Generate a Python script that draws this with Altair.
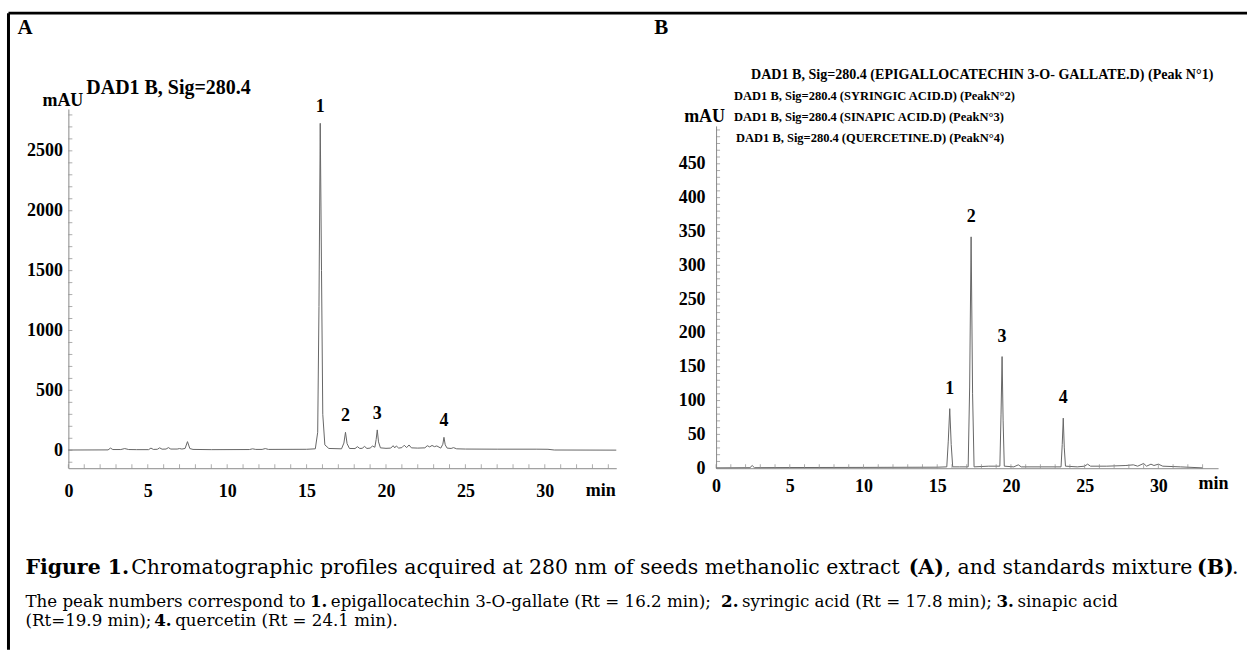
import altair as alt
import pandas as pd

SERIF = "Liberation Serif"
CAPTION_FONT = "DejaVu Serif"
TRACE = "#666666"
AXIS = "#8a8a8a"

# ---- Panel A: seeds methanolic extract (DAD1 B, 280 nm) ----
A_TIME = [0.0, 2.5, 2.65, 2.8, 3.3, 3.55, 3.8, 4.3, 5.05, 5.2, 5.35, 5.6, 5.75, 5.9,
          6.15, 6.3, 6.45, 6.85, 7.0, 7.15, 7.35, 7.5, 7.65, 7.85, 9.0, 11.4, 11.6,
          11.8, 12.2, 12.4, 12.6, 15.0, 15.55, 15.7, 15.78, 15.86, 15.94, 16.02,
          16.15, 16.4, 17.2, 17.35, 17.45, 17.55, 17.7, 18.05, 18.2, 18.35, 18.5,
          18.65, 18.8, 19.0, 19.15, 19.3, 19.38, 19.45, 19.53, 19.65, 20.0, 20.3,
          20.45, 20.55, 20.65, 20.8, 21.0, 21.15, 21.3, 21.45, 21.6, 22.0, 22.45,
          22.6, 22.75, 22.9, 23.05, 23.2, 23.45, 23.58, 23.65, 23.73, 23.85, 24.1,
          24.25, 24.45, 25.0, 27.0, 29.5, 30.2, 30.6, 34.5]
A_MAU = [2, 3, 18, 6, 6, 14, 6, 5, 5, 18, 7, 8, 20, 9,
         10, 22, 10, 10, 14, 10, 15, 72, 14, 7, 5, 6, 12,
         7, 7, 14, 7, 8, 12, 150, 1200, 2730, 1500, 300,
         45, 15, 12, 60, 150, 55, 15, 14, 30, 15, 16,
         32, 15, 18, 35, 25, 90, 170, 70, 20, 16, 18,
         38, 20, 36, 18, 22, 42, 22, 44, 20, 18, 20,
         38, 28, 40, 30, 36, 18, 50, 108, 45, 18, 15,
         22, 12, 10, 9, 9, 8, 2, 1]

# ---- Panel B: standards mixture ----
B_TIME = [0.0, 2.3, 2.45, 2.6, 5.0, 10.0, 15.0, 15.65, 15.75, 15.85, 15.95, 16.05,
          16.5, 17.1, 17.2, 17.3, 17.4, 17.5, 18.5, 19.25, 19.33, 19.4, 19.47, 19.55,
          20.2, 20.5, 20.7, 22.0, 23.4, 23.48, 23.55, 23.62, 23.7, 24.5, 25.0, 25.2,
          25.4, 26.5, 27.8, 28.3, 28.6, 29.0, 29.2, 29.5, 29.7, 30.0, 30.3, 31.5, 33.0]
B_MAU = [0.5, 0.8, 4, 0.8, 1, 1.2, 1.5, 2, 40, 88, 35, 2,
         2, 2, 120, 342, 110, 2, 3, 3, 80, 165, 70, 3,
         2, 5, 2, 2, 2, 35, 74, 30, 3, 2, 3, 6,
         3, 3, 4, 5, 3, 7, 3, 6, 4, 6, 3, 2, 0.5]

PEAK_NUM = ["1", "2", "3", "4"]
A_PEAK_RT = [15.86, 17.45, 19.45, 23.65]
A_PEAK_MAU = [2730, 150, 170, 108]
B_PEAK_RT = [15.85, 17.3, 19.4, 23.55]
B_PEAK_MAU = [88, 342, 165, 74]

X_LABELS = [0, 5, 10, 15, 20, 25, 30]
A_X_MINOR = list(range(0, 35))
B_X_MINOR = list(range(0, 34))
A_Y_LABELS = [0, 500, 1000, 1500, 2000, 2500]
A_Y_MINOR = list(range(-100, 2900, 100))
B_Y_LABELS = [0, 50, 100, 150, 200, 250, 300, 350, 400, 450]
B_Y_MINOR = list(range(0, 510, 10))

B_LEGEND = [
    "DAD1 B, Sig=280.4 (EPIGALLOCATECHIN 3-O- GALLATE.D) (Peak N°1)",
    "DAD1 B, Sig=280.4  (SYRINGIC ACID.D) (PeakN°2)",
    "DAD1 B, Sig=280.4  (SINAPIC ACID.D) (PeakN°3)",
    "DAD1 B, Sig=280.4  (QUERCETINE.D) (PeakN°4)",
]

ONE = alt.Data(values=[{}])


def txt(s, x, y, size, bold=True, font=SERIF, align="left"):
    return alt.Chart(ONE).mark_text(
        text=s, font=font, fontSize=size, fontWeight="bold" if bold else "normal",
        align=align, baseline="middle", color="black"
    ).encode(x=alt.value(x), y=alt.value(y))


def x_axis(pad, title_x, title_y):
    return alt.Axis(
        values=X_LABELS, ticks=False,
        title="min", titleX=title_x, titleY=title_y, titleAlign="center",
        titleBaseline="middle", titleFont=SERIF, titleFontSize=18,
        titleFontWeight="bold", titleColor="black",
        labelFont=SERIF, labelFontSize=18, labelFontWeight="bold", labelColor="black",
        labelPadding=pad, labelFlush=False, labelOverlap=False,
        domainColor=AXIS, grid=False)


def y_axis(values, pad, title_x, title_y):
    return alt.Axis(
        values=values, format="d", ticks=False,
        title="mAU", titleAngle=0, titleX=title_x, titleY=title_y,
        titleAlign="center", titleBaseline="middle", titleFont=SERIF,
        titleFontSize=18, titleFontWeight="bold", titleColor="black",
        labelFont=SERIF, labelFontSize=18, labelFontWeight="bold", labelColor="black",
        labelPadding=pad, labelFlush=False, labelOverlap=False,
        domainColor=AXIS, grid=False)


def minor_ticks_x(values, y_px, axis):
    return alt.Chart(pd.DataFrame({"t": values})).mark_tick(
        orient="vertical", color=AXIS, thickness=1, size=4).encode(
        x=alt.X("t:Q", axis=axis), y=alt.value(y_px))


def minor_ticks_y(values, axis):
    return alt.Chart(pd.DataFrame({"mau": values})).mark_tick(
        orient="horizontal", color=AXIS, thickness=1, size=4).encode(
        y=alt.Y("mau:Q", axis=axis), x=alt.value(2))


# ---- panel A ----
ax_a_x = x_axis(14, 533, 22)
ax_a_y = y_axis(A_Y_LABELS, 6, -6, -8)
a_line = alt.Chart(pd.DataFrame({"t": A_TIME, "mau": A_MAU})).mark_line(
    color=TRACE, strokeWidth=1).encode(
    x=alt.X("t:Q", scale=alt.Scale(domain=[0, 34.5], nice=False, zero=False), axis=ax_a_x),
    y=alt.Y("mau:Q", scale=alt.Scale(domain=[-150, 2850], nice=False), axis=ax_a_y))
a_peaks = alt.Chart(pd.DataFrame({"t": A_PEAK_RT, "mau": A_PEAK_MAU, "n": PEAK_NUM})).mark_text(
    font=SERIF, fontSize=18, fontWeight="bold", baseline="bottom", dy=-7, color="black"
).encode(x=alt.X("t:Q", axis=ax_a_x), y=alt.Y("mau:Q", axis=ax_a_y), text="n:N")

frame_top = alt.Chart(ONE).mark_rule(color="black", strokeWidth=3).encode(
    x=alt.value(-60), x2=alt.value(1181), y=alt.value(-96))
frame_left = alt.Chart(ONE).mark_rule(color="black", strokeWidth=3).encode(
    x=alt.value(-60), y=alt.value(-96), y2=alt.value(542))

CAP1, CAP2 = 20.5, 16.7
caption = [
    txt("Figure 1.", -43, 460, CAP1, True, CAPTION_FONT),
    txt("Chromatographic profiles acquired at 280 nm of seeds methanolic extract",
        63, 460, CAP1, False, CAPTION_FONT),
    txt("(A)", 842, 460, CAP1, True, CAPTION_FONT),
    txt(", and standards mixture", 878, 460, CAP1, False, CAPTION_FONT),
    txt("(B)", 1131, 460, CAP1, True, CAPTION_FONT),
    txt(".", 1166, 460, CAP1, False, CAPTION_FONT),
    txt("The peak numbers correspond to", -43, 494, CAP2, False, CAPTION_FONT),
    txt("1.", 242, 494, CAP2, True, CAPTION_FONT),
    txt("epigallocatechin 3-O-gallate (Rt = 16.2 min);", 263, 494, CAP2, False, CAPTION_FONT),
    txt("2.", 654, 494, CAP2, True, CAPTION_FONT),
    txt("syringic acid (Rt = 17.8 min);", 675, 494, CAP2, False, CAPTION_FONT),
    txt("3.", 930, 494, CAP2, True, CAPTION_FONT),
    txt("sinapic acid", 951, 494, CAP2, False, CAPTION_FONT),
    txt("(Rt=19.9 min);", -43, 513, CAP2, False, CAPTION_FONT),
    txt("4.", 86, 513, CAP2, True, CAPTION_FONT),
    txt("quercetin (Rt = 24.1 min).", 107, 513, CAP2, False, CAPTION_FONT),
]

panel_a = alt.layer(
    a_line, minor_ticks_x(A_X_MINOR, 358, ax_a_x), minor_ticks_y(A_Y_MINOR, ax_a_y), a_peaks,
    txt("A", -51, -81, 21),
    txt("DAD1 B, Sig=280.4", 18, -21, 20),
    frame_top, frame_left, *caption,
).properties(width=549, height=360)

# ---- panel B ----
ax_b_x = x_axis(9, 498, 15)
ax_b_y = y_axis(B_Y_LABELS, 11, -12, 8)
b_line = alt.Chart(pd.DataFrame({"t": B_TIME, "mau": B_MAU})).mark_line(
    color=TRACE, strokeWidth=1).encode(
    x=alt.X("t:Q", scale=alt.Scale(domain=[0, 34.05], nice=False, zero=False), axis=ax_b_x),
    y=alt.Y("mau:Q", scale=alt.Scale(domain=[0, 506], range=[360, 17], nice=False), axis=ax_b_y))
b_peaks = alt.Chart(pd.DataFrame({"t": B_PEAK_RT, "mau": B_PEAK_MAU, "n": PEAK_NUM})).mark_text(
    font=SERIF, fontSize=18, fontWeight="bold", baseline="bottom", dy=-11, color="black"
).encode(x=alt.X("t:Q", axis=ax_b_x), y=alt.Y("mau:Q", axis=ax_b_y), text="n:N")

panel_b = alt.layer(
    b_line, minor_ticks_x(B_X_MINOR, 358, ax_b_x), minor_ticks_y(B_Y_MINOR, ax_b_y), b_peaks,
    txt("B", -62, -81, 21),
    txt(B_LEGEND[0], 35, -34, 14.1),
    txt(B_LEGEND[1], 18, -13, 12.5),
    txt(B_LEGEND[2], 18, 8, 12.5),
    txt(B_LEGEND[3], 20, 29, 12.5),
).properties(width=503, height=360)

chart = alt.hconcat(panel_a, panel_b, spacing=100, bounds="flush").properties(
    padding={"left": 6.5, "top": 10.5, "right": 0, "bottom": 0}
).configure(background="white").configure_view(stroke=None)

chart.save("out.html", embed_options={"renderer": "svg", "actions": False})
